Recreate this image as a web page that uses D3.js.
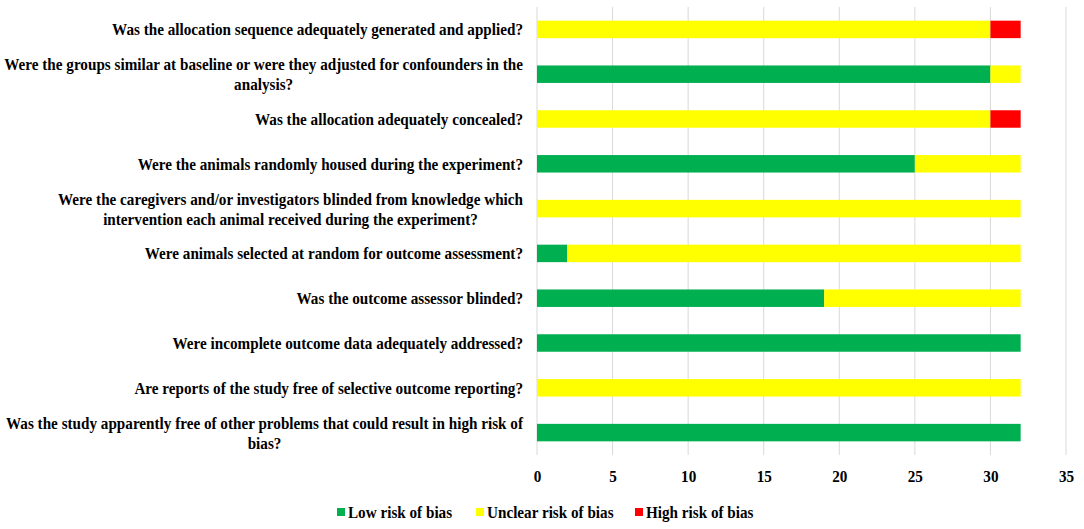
<!DOCTYPE html>
<html>
<head>
<meta charset="utf-8">
<script src="https://cdn.jsdelivr.net/npm/d3@7"></script>
<style>
  body { margin: 0; background: #fff; }
  svg { display: block; }
  text { font-family: "Liberation Serif", "Times New Roman", serif; font-weight: bold; fill: #000; }
</style>
</head>
<body>
<svg id="chart" width="1084" height="529"></svg>
<script>
// ---- data ----
const questions = [
  ['Was the allocation sequence adequately generated and applied?'],
  ['Were the groups similar at baseline or were they adjusted for confounders in the', 'analysis?'],
  ['Was the allocation adequately concealed?'],
  ['Were the animals randomly housed during the experiment?'],
  ['Were the caregivers and/or investigators blinded from knowledge which', 'intervention each animal received during the experiment?'],
  ['Were animals selected at random for outcome assessment?'],
  ['Was the outcome assessor blinded?'],
  ['Were incomplete outcome data adequately addressed?'],
  ['Are reports of the study free of selective outcome reporting?'],
  ['Was the study apparently free of other problems that could result in high risk of', 'bias?']
];
const lowRisk     = [0, 30, 0, 25, 0, 2, 19, 32, 0, 32];
const unclearRisk = [30, 2, 30, 7, 32, 30, 13, 0, 32, 0];
const highRisk    = [2, 0, 2, 0, 0, 0, 0, 0, 0, 0];
const xTicks = [0, 5, 10, 15, 20, 25, 30, 35];

const seriesNames = ['Low risk of bias', 'Unclear risk of bias', 'High risk of bias'];
const seriesColors = ['#00B050', '#FFFF00', '#FF0000'];

// ---- layout ----
const svg = d3.select('#chart');
const plot = { left: 537, right: 1066, top: 7, bottom: 455 };
const fontSize = 17;

// the source text is condensed: squeeze serif glyphs horizontally
const probe = svg.append('text').attr('font-size', fontSize).text(questions[0][0]);
const squeeze = 411 / probe.node().getComputedTextLength();
probe.remove();

const x = d3.scaleLinear().domain([0, 35]).range([plot.left, plot.right]);
const y = d3.scaleBand()
  .domain(d3.range(questions.length))
  .range([plot.top, plot.bottom])
  .paddingInner(0.61)
  .paddingOuter(0.305);

// grid lines
svg.append('g')
  .selectAll('line')
  .data(xTicks)
  .join('line')
  .attr('x1', d => x(d)).attr('x2', d => x(d))
  .attr('y1', plot.top).attr('y2', plot.bottom)
  .attr('stroke', '#d9d9d9')
  .attr('stroke-width', 1);

// stacked bars
const rows = questions.map((q, i) => ({ i, v: [lowRisk[i], unclearRisk[i], highRisk[i]] }));
const stack = d3.stack().keys([0, 1, 2]).value((d, k) => d.v[k]);
const layers = stack(rows);

svg.append('g')
  .selectAll('g')
  .data(layers)
  .join('g')
  .attr('fill', (d, k) => seriesColors[k])
  .selectAll('rect')
  .data(d => d.filter(s => s[1] > s[0]))
  .join('rect')
  .attr('x', s => x(s[0]))
  .attr('width', s => x(s[1]) - x(s[0]))
  .attr('y', s => y(s.data.i))
  .attr('height', y.bandwidth());

// x axis tick labels
const xAxis = d3.axisBottom(x).tickValues(xTicks).tickSize(0).tickPadding(0);
const gx = svg.append('g')
  .attr('transform', `translate(0,${plot.bottom})`)
  .call(xAxis);
gx.select('.domain').remove();
gx.selectAll('.tick text')
  .attr('dy', '0.35em')
  .attr('y', 0)
  .attr('transform', `translate(0,21) scale(${squeeze},1)`)
  .style('font-family', '"Liberation Serif", serif')
  .style('font-weight', 'bold')
  .style('font-size', '17px')
  .attr('fill', '#000');

// category labels
const labelRight = 523;
const lineH = 20;
const labels = svg.append('g')
  .selectAll('g')
  .data(questions)
  .join('g')
  .attr('transform', (d, i) => `translate(${labelRight},${y(i) + y.bandwidth() / 2}) scale(${squeeze},1)`);

labels.each(function(lines) {
  const g = d3.select(this);
  const t = g.selectAll('text')
    .data(lines)
    .join('text')
    .attr('font-size', fontSize)
    .attr('dy', '0.35em')
    .attr('y', (d, j) => (j - (lines.length - 1) / 2) * lineH)
    .text(d => d);
  // center lines against each other, right edge of the block at labelRight
  const maxW = d3.max(t.nodes(), n => n.getComputedTextLength());
  t.attr('text-anchor', 'middle').attr('x', -maxW / 2);
});

// legend
const legendX = [337, 476, 635];
const legend = svg.append('g')
  .attr('transform', 'translate(0,512)')
  .selectAll('g')
  .data(seriesNames)
  .join('g')
  .attr('transform', (d, k) => `translate(${legendX[k]},0)`);
legend.append('rect')
  .attr('x', 0).attr('y', -4)
  .attr('width', 8).attr('height', 8)
  .attr('fill', (d, k) => seriesColors[k]);
legend.append('text')
  .attr('transform', `translate(11,0) scale(${squeeze},1)`)
  .attr('dy', '0.35em')
  .attr('font-size', fontSize)
  .text(d => d);
</script>
</body>
</html>
